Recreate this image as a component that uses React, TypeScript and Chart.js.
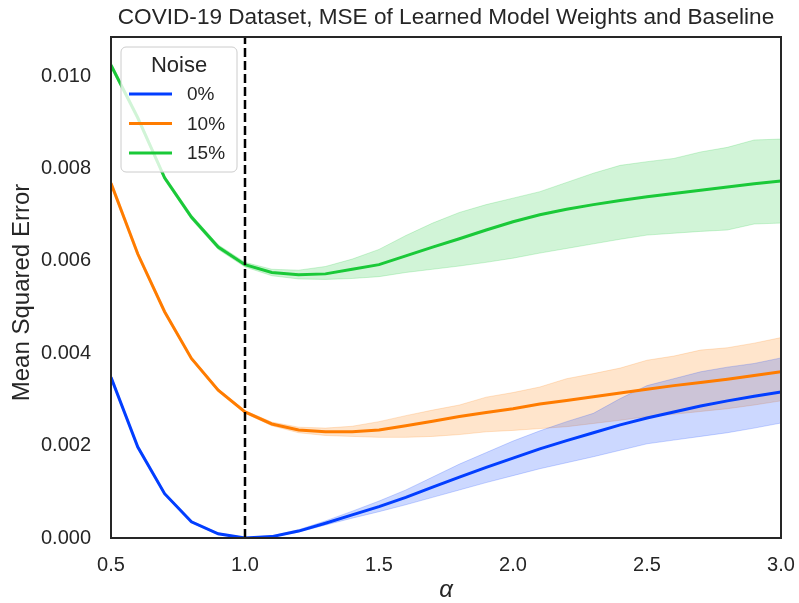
import React, { useEffect, useRef } from "react";
import { Chart, registerables } from "chart.js";
Chart.register(...registerables);

const alpha = [0.5, 0.6, 0.7, 0.8, 0.9, 1.0, 1.1, 1.2, 1.3, 1.4, 1.5, 1.6, 1.7, 1.8, 1.9, 2.0, 2.1, 2.2, 2.3, 2.4, 2.5, 2.6, 2.7, 2.8, 2.9, 3.0];

const blueMean = [0.00348, 0.00197, 0.00096, 0.00035, 0.00009, 0.0, 0.00003, 0.00015, 0.00032, 0.0005, 0.00068, 0.00088, 0.0011, 0.00132, 0.00153, 0.00173, 0.00193, 0.00211, 0.00228, 0.00245, 0.0026, 0.00273, 0.00286, 0.00297, 0.00307, 0.00316];
const blueLow = [0.00343, 0.00193, 0.00093, 0.00033, 0.00007, 0.0, 0.00002, 0.00013, 0.00028, 0.00043, 0.00057, 0.00072, 0.00088, 0.00104, 0.0012, 0.00135, 0.0015, 0.00163, 0.00176, 0.0019, 0.00204, 0.00212, 0.0022, 0.00228, 0.00238, 0.00249];
const blueHigh = [0.00353, 0.00201, 0.00099, 0.00037, 0.00011, 0.00001, 0.00005, 0.00018, 0.00037, 0.00058, 0.0008, 0.00104, 0.00132, 0.0016, 0.00185, 0.0021, 0.00232, 0.00252, 0.0027, 0.00302, 0.0033, 0.00345, 0.0036, 0.0037, 0.00378, 0.0039];

const orangeMean = [0.00768, 0.00615, 0.0049, 0.00389, 0.0032, 0.00273, 0.00247, 0.00234, 0.0023, 0.0023, 0.00234, 0.00243, 0.00253, 0.00263, 0.00272, 0.0028, 0.0029, 0.00298, 0.00306, 0.00314, 0.00322, 0.0033, 0.00337, 0.00344, 0.00352, 0.0036];
const orangeLow = [0.00762, 0.0061, 0.00486, 0.00386, 0.00317, 0.0027, 0.00243, 0.00228, 0.00222, 0.0022, 0.00218, 0.00218, 0.0022, 0.00224, 0.0023, 0.00233, 0.00237, 0.00241, 0.00248, 0.00255, 0.00263, 0.00268, 0.00274, 0.0028, 0.00288, 0.00297];
const orangeHigh = [0.00775, 0.0062, 0.00494, 0.00392, 0.00323, 0.00276, 0.00251, 0.0024, 0.00238, 0.00242, 0.00252, 0.00265, 0.00277, 0.00288, 0.00305, 0.00315, 0.00327, 0.00345, 0.00356, 0.00368, 0.00385, 0.00394, 0.00407, 0.00412, 0.00422, 0.00434];

const greenMean = [0.01024, 0.0091, 0.0078, 0.00695, 0.0063, 0.00592, 0.00575, 0.0057, 0.00572, 0.00582, 0.00592, 0.00611, 0.0063, 0.00648, 0.00667, 0.00685, 0.007, 0.00712, 0.00722, 0.00731, 0.00739, 0.00746, 0.00753, 0.0076, 0.00767, 0.00773];
const greenLow = [0.01018, 0.00904, 0.00775, 0.0069, 0.00625, 0.00587, 0.00568, 0.00561, 0.0056, 0.00562, 0.00566, 0.00575, 0.00582, 0.00589, 0.00597, 0.00606, 0.00617, 0.00627, 0.00637, 0.00647, 0.00656, 0.0066, 0.00664, 0.00667, 0.0068, 0.00682];
const greenHigh = [0.0103, 0.00916, 0.00785, 0.007, 0.00635, 0.00597, 0.00582, 0.0058, 0.00588, 0.00604, 0.00625, 0.00655, 0.00682, 0.00705, 0.00722, 0.00736, 0.0075, 0.0077, 0.0079, 0.00807, 0.00815, 0.00822, 0.00836, 0.00846, 0.00862, 0.00864];

const seriesLabels = ["0%", "10%", "15%"];
const seriesColors = ["#023eff", "#ff7c00", "#1ac938"];
const bandColors = ["rgba(2,62,255,0.2)", "rgba(255,124,0,0.2)", "rgba(26,201,56,0.2)"];

const xTicks = [0.5, 1.0, 1.5, 2.0, 2.5, 3.0];
const yTicks = [0.0, 0.002, 0.004, 0.006, 0.008, 0.01];
const xRange = [0.5, 3.0];
const yRange = [0, 0.01085];
const refLineX = [1.0, 1.0];
const refLineY = [0, 0.01085];

const titleText = "COVID-19 Dataset, MSE of Learned Model Weights and Baseline";
const yLabel = "Mean Squared Error";
const xLabel = "α";
const legendTitle = "Noise";

const FONT = "'Liberation Sans', Arial, sans-serif";
const TEXT = "#262626";

const xy = (ys: number[]) => alpha.map((a, i) => ({ x: a, y: ys[i] }));

export default function App() {
  const ref = useRef<HTMLCanvasElement | null>(null);
  useEffect(() => {
    if (!ref.current) return;
    const means = [blueMean, orangeMean, greenMean];
    const lows = [blueLow, orangeLow, greenLow];
    const highs = [blueHigh, orangeHigh, greenHigh];

    const datasets: any[] = [];
    datasets.push({
      data: refLineX.map((x, i) => ({ x, y: refLineY[i] })),
      borderColor: "#000000",
      borderWidth: 2.5,
      borderDash: [9, 4],
      pointRadius: 0,
      fill: false,
    });
    means.forEach((m, k) => {
      datasets.push({
        data: xy(m),
        borderColor: seriesColors[k],
        borderWidth: 3,
        pointRadius: 0,
        fill: false,
        tension: 0,
      });
    });
    lows.forEach((lo, k) => {
      const idx = datasets.length;
      datasets.push({
        data: xy(lo),
        borderColor: bandColors[k],
        borderWidth: 1,
        pointRadius: 0,
        fill: false,
      });
      datasets.push({
        data: xy(highs[k]),
        borderColor: bandColors[k],
        borderWidth: 1,
        backgroundColor: bandColors[k],
        pointRadius: 0,
        fill: { target: idx },
      });
    });

    const deco = {
      id: "deco",
      afterDraw(chart: any) {
        const { ctx, chartArea: a } = chart;
        ctx.save();
        // spines
        ctx.strokeStyle = TEXT;
        ctx.lineWidth = 2;
        ctx.strokeRect(a.left, a.top, a.right - a.left, a.bottom - a.top);
        // title
        ctx.fillStyle = TEXT;
        ctx.font = `22.6px ${FONT}`;
        ctx.textAlign = "center";
        ctx.textBaseline = "middle";
        ctx.fillText(titleText, (a.left + a.right) / 2, 18);
        // x label
        ctx.font = `italic 24px ${FONT}`;
        ctx.fillText(xLabel, (a.left + a.right) / 2, 590);
        // y label
        ctx.save();
        ctx.translate(22, (a.top + a.bottom) / 2 + 5);
        ctx.rotate(-Math.PI / 2);
        ctx.font = `24px ${FONT}`;
        ctx.fillText(yLabel, 0, 0);
        ctx.restore();
        // legend
        const lx = 121, ly = 47, lw = 116, lh = 125, r = 5;
        ctx.beginPath();
        ctx.moveTo(lx + r, ly);
        ctx.arcTo(lx + lw, ly, lx + lw, ly + lh, r);
        ctx.arcTo(lx + lw, ly + lh, lx, ly + lh, r);
        ctx.arcTo(lx, ly + lh, lx, ly, r);
        ctx.arcTo(lx, ly, lx + lw, ly, r);
        ctx.closePath();
        ctx.fillStyle = "rgba(255,255,255,0.8)";
        ctx.fill();
        ctx.strokeStyle = "#cccccc";
        ctx.lineWidth = 1;
        ctx.stroke();
        ctx.fillStyle = TEXT;
        ctx.font = `22px ${FONT}`;
        ctx.textAlign = "center";
        ctx.fillText(legendTitle, 179, 66);
        ctx.font = `19px ${FONT}`;
        ctx.textAlign = "left";
        seriesLabels.forEach((lab, k) => {
          const y = 94 + k * 29.5;
          ctx.strokeStyle = seriesColors[k];
          ctx.lineWidth = 3;
          ctx.beginPath();
          ctx.moveTo(129, y);
          ctx.lineTo(172, y);
          ctx.stroke();
          ctx.fillStyle = TEXT;
          ctx.fillText(lab, 187, y + 1);
        });
        ctx.restore();
      },
    };

    const chart = new Chart(ref.current, {
      type: "line",
      data: { datasets },
      plugins: [deco],
      options: {
        animation: false,
        responsive: false,
        maintainAspectRatio: false,
        layout: { padding: { left: 0, right: 18, top: 37, bottom: 0 } },
        plugins: {
          legend: { display: false },
          tooltip: { enabled: false },
          title: { display: false },
        },
        scales: {
          x: {
            type: "linear",
            min: xRange[0],
            max: xRange[1],
            grid: { display: false },
            border: { display: false },
            afterBuildTicks: (s: any) => {
              s.ticks = xTicks.map((v) => ({ value: v }));
            },
            afterFit: (s: any) => {
              s.height = 65;
              s.paddingLeft = 0;
              s.paddingRight = 0;
            },
            ticks: {
              padding: 7,
              color: TEXT,
              font: { family: FONT, size: 20 },
              maxRotation: 0,
              callback: (v: any) => Number(v).toFixed(1),
            },
          },
          y: {
            type: "linear",
            min: yRange[0],
            max: yRange[1],
            grid: { display: false },
            border: { display: false },
            afterBuildTicks: (s: any) => {
              s.ticks = yTicks.map((v) => ({ value: v }));
            },
            afterFit: (s: any) => {
              s.width = 111;
              s.paddingTop = 0;
              s.paddingBottom = 0;
            },
            ticks: {
              padding: 12,
              color: TEXT,
              font: { family: FONT, size: 20 },
              callback: (v: any) => Number(v).toFixed(3),
            },
          },
        },
      } as any,
    });
    return () => chart.destroy();
  }, []);

  return (
    <div style={{ position: "fixed", left: 0, top: 0, width: 799, height: 603, background: "#fff" }}>
      <canvas ref={ref} width={799} height={603} style={{ width: 799, height: 603, display: "block" }} />
    </div>
  );
}
